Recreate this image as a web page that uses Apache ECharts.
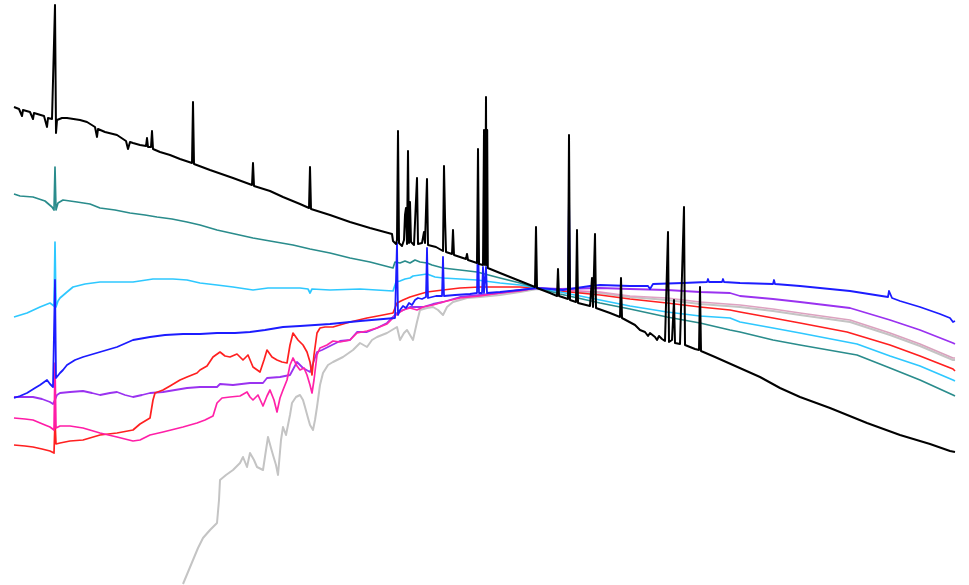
<!DOCTYPE html>
<html>
<head>
<meta charset="utf-8">
<title>Stellar spectra</title>
<script src="https://cdn.jsdelivr.net/npm/echarts@6/dist/echarts.min.js"></script>
<style>
  html, body { margin: 0; padding: 0; background: #ffffff; }
  #chart { width: 969px; height: 585px; }
</style>
</head>
<body>
<div id="chart"></div>
<script>
// Spectra as [wavelength channel, relative magnitude] pairs (magnitude axis is inverted).
const hotStar = [[14,107],[19,109],[21,109],[22,116],[23,110],[30,112],[32,112],[33,119],[34,113],[44,116],[46,116],[47,127],[48,118],[52,119],[54,121],[55,5],[56,133],[57,120],[62,118],[67,118],[80,120],[87,122],[95,127],[96,128],[97,137],[98,129],[105,132],[117,135],[126,141],[128,149],[130,142],[133,143],[140,145],[146,146],[147,138],[148,147],[151,147],[152,131],[153,149],[160,152],[170,155],[180,159],[192,163],[193,102],[194,164],[210,170],[233,178],[252,185],[253,163],[254,186],[270,191],[283,197],[300,204],[309,208],[310,167],[311,209],[330,215],[350,222],[370,228],[392,234],[393,241],[396,244],[397,240],[398,131],[399,243],[402,246],[404,240],[405,215],[406,208],[407,244],[408,151],[409,243],[410,202],[411,242],[414,245],[416,243],[417,178],[418,244],[422,243],[424,232],[425,243],[427,179],[428,245],[432,246],[436,247],[443,251],[444,166],[445,217],[446,252],[452,254],[453,230],[454,255],[466,259],[467,254],[468,260],[477,263],[478,149],[479,264],[483,265],[484,130],[485,265],[486,97],[486.6,265],[487.2,130],[487.8,268],[500,273],[520,281],[535,287],[536,227],[537,288],[550,293],[557,296],[558,269],[559,296],[568,299],[569,135],[570,300],[576,302],[577,230],[578,303],[590,306],[592,278],[593,307],[595,234],[596,308],[610,313],[620,317],[621,278],[622,318],[635,325],[640,330],[645,332],[648,336],[650,333],[655,337],[657,340],[659,336],[662,339],[665,341],[668,232],[669,342],[672,340],[674,300],[675,343],[680,344],[684,207],[685,345],[695,349],[699,350],[700,287],[701,351],[715,357],[733,365],[760,377],[780,388],[800,397],[830,408],[867,423],[900,435],[930,444],[950,451],[955,452]];

const tealStar = [[14,194],[20,196],[33,197],[45,201],[52,207],[54,210],[55,167],[56,210],[58,203],[63,200],[70,201],[77,202],[90,204],[100,208],[115,210],[130,213],[145,215],[157,217],[172,219],[187,222],[200,225],[217,230],[235,234],[253,238],[270,241],[293,245],[310,249],[330,253],[350,258],[370,262],[393,268],[395,262],[400,263],[405,261],[410,263],[415,260],[420,262],[427,263],[432,265],[443,268],[460,270],[477,272],[500,278],[520,283],[537,288],[560,294],[600,303],[630,309],[667,317],[700,323],[730,330],[740,332],[773,340],[800,345],[857,355],[890,368],[920,380],[953,395],[955,396]];

const cyanStar = [[14,317],[27,313],[40,307],[50,303],[54,306],[55,242],[56,307],[58,301],[60,298],[67,292],[73,287],[85,284],[100,282],[117,282],[133,282],[153,279],[173,279],[187,280],[200,283],[217,285],[233,287],[253,290],[268,288],[283,288],[300,288],[308,289],[310,293],[312,289],[330,290],[360,289],[393,291],[396,282],[400,281],[405,279],[410,278],[413,276],[420,275],[427,274],[435,277],[443,278],[460,279],[477,280],[500,283],[520,285],[537,288],[560,292],[600,300],[630,306],[667,312],[700,316],[730,318],[740,322],[773,328],[800,333],[857,344],[890,356],[920,366],[953,380],[955,381]];

const blueStar = [[14,398],[20,396],[27,393],[35,388],[40,385],[47,380],[50,384],[53,387],[54,389],[55,280],[56,378],[58,376],[60,373],[63,370],[67,365],[75,360],[83,357],[100,352],[117,347],[133,340],[150,337],[165,335],[183,334],[200,334],[217,333],[235,333],[250,332],[265,330],[283,327],[300,326],[330,324],[360,321],[395,318],[397,243],[398,315],[400,310],[403,306],[406,308],[409,303],[412,305],[415,300],[418,298],[422,299],[426,297],[427,248],[428,298],[432,297],[436,296],[442,296],[443,257],[444,296],[455,295],[470,294],[477,293],[478,232],[479,293],[482,293],[483,267],[484,293],[486,267],[487,293],[500,292],[520,290],[537,288],[550,289],[563,290],[568,289],[569,193],[570,289],[590,286],[600,285],[630,286],[648,286],[650,289],[653,284],[683,283],[707,282],[708,279],[709,282],[722,282],[723,279],[724,282],[740,283],[773,284],[774,280],[775,284],[800,286],[850,291],[888,297],[889,291],[891,291],[892,298],[900,301],[920,307],[940,314],[950,318],[953,322],[955,321]];

const violetStar = [[14,397],[25,397],[33,397],[42,399],[50,402],[53,404],[55,400],[57,395],[60,393],[70,392],[83,391],[92,393],[100,395],[110,393],[117,392],[125,395],[133,397],[142,395],[150,393],[163,392],[175,390],[187,388],[200,387],[217,387],[220,384],[233,385],[250,383],[263,383],[267,378],[280,377],[290,375],[297,362],[303,368],[310,372],[317,352],[322,350],[330,346],[340,341],[350,340],[357,332],[367,332],[377,328],[387,323],[397,313],[410,307],[423,307],[433,304],[443,302],[460,297],[480,295],[500,293],[520,290],[537,288],[560,289],[600,288],[630,289],[667,290],[700,292],[730,293],[740,296],[773,299],[800,302],[850,308],[890,320],[920,330],[953,343],[955,344]];

const pinkStar = [[14,418],[25,419],[33,420],[45,425],[50,427],[54,430],[55,363],[56,428],[60,426],[70,426],[83,428],[100,433],[117,437],[133,441],[140,440],[150,435],[163,432],[175,429],[183,427],[197,423],[205,420],[213,416],[217,403],[222,398],[230,397],[240,396],[247,392],[250,397],[253,400],[258,395],[263,406],[267,396],[270,390],[274,400],[277,412],[280,398],[283,390],[287,380],[290,365],[293,358],[297,366],[300,370],[304,368],[307,375],[310,385],[312,393],[314,380],[317,355],[320,348],[327,345],[333,341],[340,342],[350,340],[357,333],[367,331],[377,328],[387,324],[397,314],[403,310],[410,308],[417,310],[423,307],[433,305],[443,302],[460,298],[480,296],[500,293],[520,291],[537,288],[560,290],[580,291],[600,292],[630,296],[667,298],[700,302],[740,305],[773,309],[800,313],[850,320],[890,333],[920,344],[953,358],[955,358]];

const redStar = [[14,445],[25,446],[33,447],[42,449],[50,451],[54,453],[55,420],[56,444],[60,443],[70,441],[83,440],[100,435],[117,433],[133,430],[140,424],[150,418],[153,400],[155,393],[163,390],[170,386],[180,380],[187,377],[197,373],[200,370],[207,366],[213,357],[220,352],[225,356],[230,357],[237,354],[243,360],[248,355],[253,367],[260,372],[264,360],[267,350],[272,357],[277,360],[282,362],[287,363],[290,345],[293,333],[298,340],[303,345],[307,352],[310,362],[312,375],[314,355],[317,333],[320,328],[325,327],[333,327],[350,322],[367,318],[383,315],[393,313],[397,303],[403,300],[410,297],[420,294],[427,292],[443,290],[460,288],[480,287],[500,287],[520,287],[537,288],[560,291],[600,295],[630,299],[667,303],[700,307],[730,310],[740,312],[773,318],[800,323],[847,332],[890,345],[920,356],[953,369],[955,371]];

const coolStar = [[183,584],[188,572],[193,560],[198,548],[203,538],[210,530],[217,523],[219,500],[220,480],[226,475],[233,470],[240,463],[243,457],[247,467],[250,453],[254,460],[257,467],[263,470],[266,450],[268,437],[271,448],[273,455],[276,465],[278,475],[281,440],[283,427],[286,435],[288,433],[290,415],[292,403],[296,397],[300,395],[303,400],[305,407],[308,418],[310,425],[313,430],[315,420],[317,407],[320,385],[323,373],[328,365],[333,362],[343,357],[353,350],[360,343],[367,347],[372,340],[377,337],[387,333],[392,330],[397,327],[400,340],[404,333],[407,330],[410,335],[413,340],[417,322],[420,310],[427,308],[433,307],[438,310],[443,315],[447,307],[453,302],[460,300],[467,298],[480,297],[500,295],[520,292],[537,289],[560,291],[580,292],[600,293],[630,297],[667,300],[700,304],[740,307],[773,311],[800,315],[850,322],[890,335],[920,346],[953,360],[955,360]];

const chart = echarts.init(document.getElementById('chart'), null, { renderer: 'canvas' });

function spectrum(name, data, color, width, z) {
  return {
    name: name,
    type: 'line',
    data: data,
    showSymbol: false,
    symbol: 'none',
    smooth: false,
    z: z,
    lineStyle: { color: color, width: width, join: 'round' },
    emphasis: { disabled: true }
  };
}

const pinkGradient = {
  type: 'linear', x: 0, y: 0, x2: 969, y2: 0, global: true,
  colorStops: [
    { offset: 0, color: '#ff1aa6' },
    { offset: 0.55, color: '#ff2aaa' },
    { offset: 0.63, color: '#e2a2c4' },
    { offset: 1, color: '#d8a2bc' }
  ]
};

chart.setOption({
  animation: false,
  backgroundColor: '#ffffff',
  grid: { left: 0, right: 0, top: 0, bottom: 0, containLabel: false },
  xAxis: { type: 'value', min: 0, max: 969, show: false },
  yAxis: { type: 'value', min: 0, max: 585, inverse: true, show: false },
  series: [
    spectrum('M', coolStar, '#c4c4c4', 2, 1),
    spectrum('A', violetStar, '#9a32f0', 1.8, 2),
    spectrum('K', redStar, '#ff2020', 1.7, 3),
    spectrum('F', pinkStar, pinkGradient, 1.7, 4),
    spectrum('B5', cyanStar, '#2ec8ff', 1.7, 5),
    spectrum('B0', tealStar, '#2a8c8c', 1.7, 6),
    spectrum('G', blueStar, '#1c1cff', 1.8, 7),
    spectrum('O', hotStar, '#000000', 2, 8)
  ]
});
</script>
</body>
</html>
